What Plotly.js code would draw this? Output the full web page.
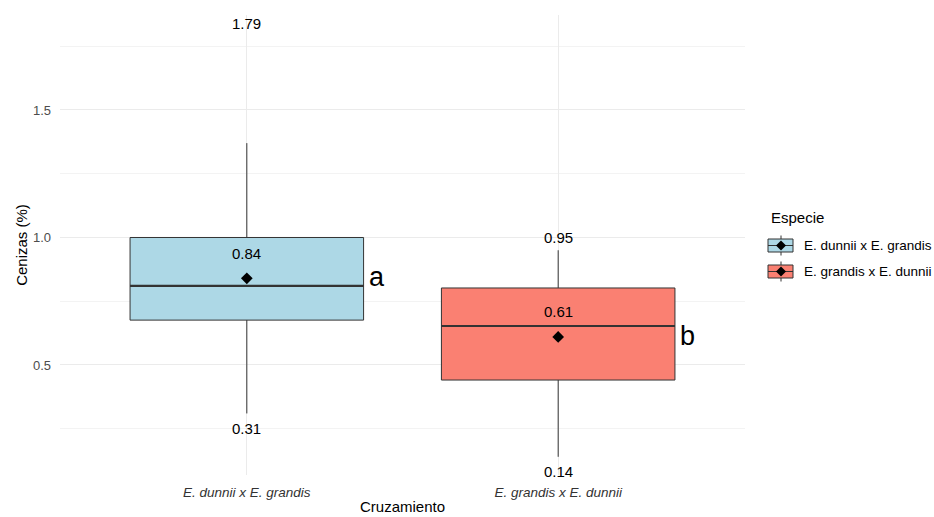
<!DOCTYPE html>
<html>
<head>
<meta charset="utf-8">
<script src="https://cdn.plot.ly/plotly-3.0.1.min.js"></script>
<style>
  html, body { margin: 0; padding: 0; background: #fff; }
  #chart { width: 934px; height: 517px; }
</style>
</head>
<body>
<div id="chart"></div>
<script>
// Ash content (%) by cross
const categories = ["E. dunnii x E. grandis", "E. grandis x E. dunnii"];
const q1Values = [0.676, 0.441];
const medianValues = [0.81, 0.653];
const q3Values = [1.0, 0.802];
const lowerWhisker = [0.31, 0.14];
const upperWhisker = [1.37, 0.95];
const meanValues = [0.84, 0.61];
const maxValues = [1.79, 0.95];
const minValues = [0.31, 0.14];
const groupLetters = ["a", "b"];
const fillColors = ["#ADD8E6", "#FA8072"];

const FONT = "Liberation Sans, Arial, sans-serif";
const BOX_W = 0.75;
const W = 934, H = 517;
const M = { l: 60, r: 189, t: 15, b: 42 };

// pixel -> paper helpers for the hand-drawn legend
const px = x => (x - M.l) / (W - M.l - M.r);
const py = y => (H - M.b - y) / (H - M.t - M.b);

const traces = [];
const annotations = [];

categories.forEach((cat, i) => {
  traces.push({
    type: "box",
    x: [i],
    q1: [q1Values[i]],
    median: [medianValues[i]],
    q3: [q3Values[i]],
    lowerfence: [lowerWhisker[i]],
    upperfence: [upperWhisker[i]],
    width: BOX_W,
    whiskerwidth: 0,
    fillcolor: fillColors[i],
    line: { color: "#333333", width: 1 },
    boxpoints: false,
    name: cat,
    showlegend: false,
    hoverinfo: "skip"
  });
  // thicker median bar
  traces.push({
    type: "scatter", mode: "lines",
    x: [i - BOX_W / 2, i + BOX_W / 2],
    y: [medianValues[i], medianValues[i]],
    line: { color: "#333333", width: 2.2 },
    showlegend: false, hoverinfo: "skip"
  });
  // mean, max and min labels
  annotations.push({
    x: i, y: meanValues[i], xref: "x", yref: "y",
    text: meanValues[i].toFixed(2), showarrow: false, yshift: 25,
    font: { family: FONT, size: 15, color: "#000" }
  });
  annotations.push({
    x: i, y: maxValues[i], xref: "x", yref: "y",
    text: maxValues[i].toFixed(2), showarrow: false, yshift: 13,
    font: { family: FONT, size: 15, color: "#000" }
  });
  annotations.push({
    x: i, y: minValues[i], xref: "x", yref: "y",
    text: minValues[i].toFixed(2), showarrow: false, yshift: -15,
    font: { family: FONT, size: 15, color: "#000" }
  });
  annotations.push({
    x: i + BOX_W / 2, y: meanValues[i], xref: "x", yref: "y",
    text: groupLetters[i], showarrow: false, xanchor: "left", xshift: 3, yshift: 1,
    font: { family: FONT, size: 27, color: "#000" }
  });
});

// mean markers
traces.push({
  type: "scatter", mode: "markers",
  x: categories.map((_, i) => i),
  y: meanValues,
  marker: { symbol: "diamond", size: 9, color: "#000" },
  showlegend: false, hoverinfo: "skip"
});

// legend
const shapes = [];
annotations.push({
  x: px(769), y: py(217), xref: "paper", yref: "paper",
  text: "Especie", showarrow: false, xanchor: "left", yanchor: "middle",
  font: { family: FONT, size: 15, color: "#000" }
});
const rowY = [245.5, 271.5];
categories.forEach((cat, i) => {
  const cy = rowY[i];
  shapes.push({
    type: "line", xref: "paper", yref: "paper",
    x0: px(781), x1: px(781), y0: py(cy - 10), y1: py(cy + 10),
    line: { color: "#333333", width: 1 }
  });
  shapes.push({
    type: "rect", xref: "paper", yref: "paper",
    x0: px(768), x1: px(793), y0: py(cy - 6.5), y1: py(cy + 6.5),
    fillcolor: fillColors[i], line: { color: "#333333", width: 1 }
  });
  shapes.push({
    type: "line", xref: "paper", yref: "paper",
    x0: px(768), x1: px(793), y0: py(cy), y1: py(cy),
    line: { color: "#333333", width: 1 }
  });
  shapes.push({
    type: "path", xref: "paper", yref: "paper",
    path: `M ${px(781)} ${py(cy - 5)} L ${px(786)} ${py(cy)} L ${px(781)} ${py(cy + 5)} L ${px(776)} ${py(cy)} Z`,
    fillcolor: "#000", line: { color: "#000", width: 0 }
  });
  annotations.push({
    x: px(802), y: py(cy), xref: "paper", yref: "paper",
    text: cat, showarrow: false, xanchor: "left", yanchor: "middle",
    font: { family: FONT, size: 13.5, color: "#000" }
  });
});

const layout = {
  width: W, height: H,
  margin: M,
  paper_bgcolor: "#fff", plot_bgcolor: "#fff",
  showlegend: false,
  boxmode: "overlay",
  font: { family: FONT },
  xaxis: {
    range: [-0.6, 1.6],
    tickvals: categories.map((_, i) => i),
    ticktext: categories.map(c => "<i>" + c + "</i>"),
    tickfont: { family: FONT, size: 13.5, color: "#333" },
    ticklabelstandoff: 7,
    showgrid: true, gridcolor: "#ebebeb", gridwidth: 1,
    zeroline: false, showline: false, ticks: "",
    title: { text: "Cruzamiento", font: { family: FONT, size: 15, color: "#000" }, standoff: 2 }
  },
  yaxis: {
    range: [0.0686, 1.8725],
    tickvals: [0.5, 1.0, 1.5],
    ticktext: ["0.5", "1.0", "1.5"],
    tickfont: { family: FONT, size: 13, color: "#4d4d4d" },
    ticklabelstandoff: 8,
    showgrid: true, gridcolor: "#ebebeb", gridwidth: 1,
    minor: { tickvals: [0.25, 0.75, 1.25, 1.75], showgrid: true, gridcolor: "#f3f3f3", gridwidth: 1 },
    zeroline: false, showline: false, ticks: "",
    title: { text: "Cenizas (%)", font: { family: FONT, size: 15, color: "#000" }, standoff: 1 }
  },
  annotations: annotations,
  shapes: shapes
};

Plotly.newPlot("chart", traces, layout, { displayModeBar: false, staticPlot: true });
</script>
</body>
</html>
